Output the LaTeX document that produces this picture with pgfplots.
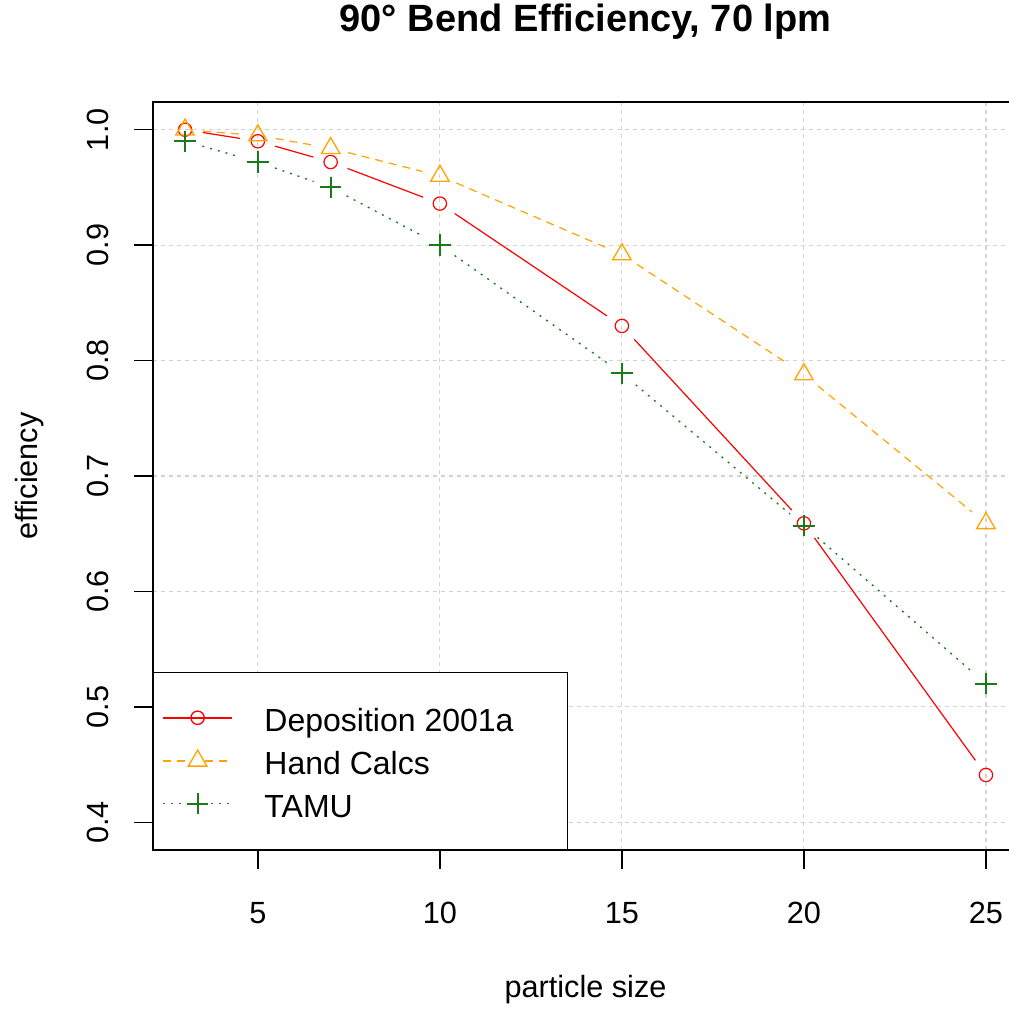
\documentclass[border=0pt]{standalone}
\usepackage{fontspec}
\setmainfont{Liberation Sans}
\usepackage{pgfplots}
\pgfplotsset{compat=1.18}
\definecolor{rorange}{HTML}{FFA500}
\definecolor{rgreen}{HTML}{1A7A1A}
\definecolor{rgrid}{HTML}{D3D3D3}
\pgfplotsset{
  segR/.style={forget plot, draw=red, line width=0.9pt, solid, shorten <=13.5pt, shorten >=13.5pt},
  segO/.style={forget plot, draw=rorange, line width=0.9pt, dash pattern=on 6pt off 4.5pt, shorten <=13.5pt, shorten >=13.5pt},
  segG/.style={forget plot, draw=rgreen, line width=1pt, dash pattern=on 1.5pt off 4.5pt, shorten <=13.5pt, shorten >=13.5pt},
}
\begin{document}
\begin{tikzpicture}
\begin{axis}[
  at={(114.75pt,120.75pt)}, anchor=south west,
  scale only axis, width=648.75pt, height=561pt,
  xmin=2.12, xmax=25.88, ymin=0.376, ymax=1.024,
  xtick={5,10,15,20,25},
  ytick={0.4,0.5,0.6,0.7,0.8,0.9,1.0},
  yticklabels={0.4,0.5,0.6,0.7,0.8,0.9,1.0},
  /pgf/number format/assume math mode=true,
  tick align=outside, major tick length=14pt,
  xtick pos=lower, ytick pos=left,
  axis line style={line width=1.1pt},
  every tick/.style={black, line width=1.1pt},
  tick label style={font=\fontsize{23}{27}\selectfont},
  xticklabel style={anchor=base, yshift=-41.25pt},
  yticklabel style={anchor=base, xshift=-19.5pt, rotate=90},
  grid=major,
  major grid style={rgrid, line width=0.8pt, dash pattern=on 3pt off 3pt},
  title={90° Bend Efficiency, 70 lpm},
  title style={at={(axis description cs:0.5,1)}, anchor=base, yshift=46.5pt, font=\bfseries\fontsize{28.5}{34}\selectfont},
  xlabel={particle size},
  xlabel style={at={(axis description cs:0.5,0)}, anchor=base, yshift=-110.25pt, font=\fontsize{23}{27}\selectfont},
  ylabel={efficiency},
  ylabel style={at={([xshift=-86.25pt]axis description cs:0,0.5)}, anchor=base, rotate=0, font=\fontsize{23}{27}\selectfont},
  legend cell align=left,
  legend style={at={(axis description cs:0,0)}, anchor=south west, draw=black, line width=1.1pt, fill=white,
    inner xsep=6.75pt, inner ysep=20pt, row sep=4pt, column sep=24pt,
    font=\fontsize{24}{28}\selectfont,
    nodes={inner sep=0pt, text height=24.25pt, text depth=4pt}},
]
% Deposition 2001a: line segments (gapped, as in type="b")
\addplot[segR] coordinates {(3,1.000) (5,0.990)};
\addplot[segR] coordinates {(5,0.990) (7,0.972)};
\addplot[segR] coordinates {(7,0.972) (10,0.936)};
\addplot[segR] coordinates {(10,0.936) (15,0.830)};
\addplot[segR] coordinates {(15,0.830) (20,0.659)};
\addplot[segR] coordinates {(20,0.659) (25,0.441)};
\addplot[only marks, color=red, mark=o, mark size=5pt, mark options={solid, draw=red, line width=0.9pt},
  legend image code/.code={\draw[draw=red, line width=1.1pt] (0cm,0cm) -- (1.8cm,0cm); \draw[draw=red, line width=1pt] (0.9cm,0cm) circle[radius=5pt];}]
  coordinates {(3,1.000) (5,0.990) (7,0.972) (10,0.936) (15,0.830) (20,0.659) (25,0.441)};
\addlegendentry{Deposition 2001a\hspace*{33.75pt}}
% Hand Calcs
\addplot[segO] coordinates {(3,1.000) (5,0.995)};
\addplot[segO] coordinates {(5,0.995) (7,0.984)};
\addplot[segO] coordinates {(7,0.984) (10,0.960)};
\addplot[segO] coordinates {(10,0.960) (15,0.892)};
\addplot[segO] coordinates {(15,0.892) (20,0.788)};
\addplot[segO] coordinates {(20,0.788) (25,0.659)};
\addplot[only marks, color=rorange, mark=triangle, mark size=8pt, mark options={solid, draw=rorange, line width=1pt},
  legend image code/.code={\draw[draw=rorange, line width=1.1pt, dash pattern=on 6pt off 4.5pt] (0cm,0cm) -- (1.8cm,0cm); \draw[draw=rorange, line width=1pt, solid, fill=white] (0.9cm,0cm) ++(90:8pt) -- ++(240:13.86pt) -- ++(0:13.86pt) -- cycle;}]
  coordinates {(3,1.000) (5,0.995) (7,0.984) (10,0.960) (15,0.892) (20,0.788) (25,0.659)};
\addlegendentry{Hand Calcs}
% TAMU
\addplot[segG] coordinates {(3,0.990) (5,0.972)};
\addplot[segG] coordinates {(5,0.972) (7,0.950)};
\addplot[segG] coordinates {(7,0.950) (10,0.900)};
\addplot[segG] coordinates {(10,0.900) (15,0.789)};
\addplot[segG] coordinates {(15,0.789) (20,0.657)};
\addplot[segG] coordinates {(20,0.657) (25,0.520)};
\addplot[only marks, color=rgreen, mark=+, mark size=8pt, mark options={solid, draw=rgreen, line width=1.4pt},
  legend image code/.code={\draw[draw=rgreen, line width=1.1pt, dash pattern=on 1.5pt off 4.5pt] (0cm,0cm) -- (1.8cm,0cm); \draw[draw=rgreen, line width=1.4pt, solid] (0.9cm,-8pt) -- (0.9cm,8pt) (0.9cm,0pt) ++(-8pt,0) -- ++(16pt,0);}]
  coordinates {(3,0.990) (5,0.972) (7,0.950) (10,0.900) (15,0.789) (20,0.657) (25,0.520)};
\addlegendentry{TAMU}
\end{axis}
\pgfresetboundingbox
\useasboundingbox (0,0) rectangle (756pt,758.25pt);
\end{tikzpicture}
\end{document}
